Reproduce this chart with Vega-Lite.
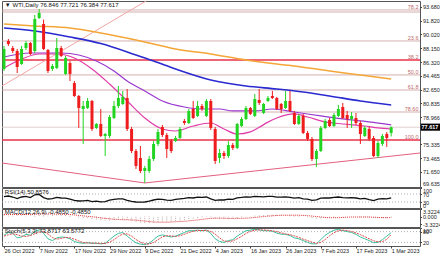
{
"$schema":"https://vega.github.io/schema/vega-lite/v6.json",
"padding":0,
"background":"white",
"spacing":1,
"bounds":"flush",
"config":{"view":{"stroke":"#555555","strokeWidth":1},"font":"Liberation Sans","axis":{"labelFontSize":5.5,"labelFont":"Liberation Sans","labelColor":"#222222","tickColor":"#444444","tickSize":1.5,"labelPadding":1,"domain":false,"grid":false,"labelOverlap":false}},
"datasets":{
"bars":[
{"i":0,"o":85.40,"h":88.47,"l":85.13,"c":88.07},{"i":1,"o":89.14,"h":89.40,"l":88.47,"c":88.74},{"i":2,"o":88.20,"h":88.47,"l":87.53,"c":87.80},{"i":3,"o":87.80,"h":88.07,"l":84.86,"c":85.66},{"i":4,"o":86.06,"h":88.47,"l":85.93,"c":88.07},{"i":5,"o":88.20,"h":89.14,"l":87.93,"c":88.87},{"i":6,"o":88.87,"h":89.00,"l":87.27,"c":87.40},{"i":7,"o":87.80,"h":92.61,"l":87.53,"c":92.08},{"i":8,"o":92.21,"h":93.41,"l":92.08,"c":92.88},{"i":9,"o":91.41,"h":92.00,"l":87.93,"c":88.07},
{"i":10,"o":87.93,"h":88.07,"l":84.86,"c":85.13},{"i":11,"o":85.40,"h":86.06,"l":85.13,"c":85.80},{"i":12,"o":85.53,"h":89.54,"l":85.40,"c":88.20},{"i":13,"o":88.20,"h":88.47,"l":87.00,"c":87.13},{"i":14,"o":84.73,"h":87.13,"l":84.60,"c":86.87},{"i":15,"o":86.20,"h":86.47,"l":83.79,"c":84.73},{"i":16,"o":83.52,"h":83.79,"l":81.66,"c":81.79},{"i":17,"o":81.79,"h":81.92,"l":77.52,"c":80.19},{"i":18,"o":80.05,"h":81.12,"l":75.38,"c":80.45},{"i":19,"o":80.19,"h":81.52,"l":80.05,"c":81.12},
{"i":20,"o":81.12,"h":81.26,"l":77.11,"c":77.38},{"i":21,"o":77.52,"h":78.18,"l":77.38,"c":78.05},{"i":22,"o":78.05,"h":80.05,"l":76.31,"c":76.45},{"i":23,"o":76.45,"h":76.85,"l":73.77,"c":76.71},{"i":24,"o":76.45,"h":79.25,"l":76.18,"c":78.98},{"i":25,"o":78.85,"h":81.12,"l":78.72,"c":80.45},{"i":26,"o":80.45,"h":83.12,"l":80.19,"c":81.52},{"i":27,"o":80.72,"h":82.46,"l":80.59,"c":81.66},{"i":28,"o":81.52,"h":82.72,"l":77.11,"c":77.38},{"i":29,"o":77.38,"h":77.65,"l":74.17,"c":74.44},
{"i":30,"o":74.44,"h":74.71,"l":72.04,"c":72.44},{"i":31,"o":73.51,"h":75.11,"l":71.50,"c":71.77},{"i":32,"o":71.77,"h":72.44,"l":70.17,"c":72.17},{"i":33,"o":71.77,"h":73.77,"l":71.50,"c":73.37},{"i":34,"o":73.37,"h":75.78,"l":73.10,"c":75.38},{"i":35,"o":75.38,"h":77.38,"l":75.11,"c":76.98},{"i":36,"o":77.65,"h":77.92,"l":76.31,"c":76.58},{"i":37,"o":76.58,"h":76.85,"l":73.51,"c":74.71},{"i":38,"o":75.78,"h":76.05,"l":74.17,"c":74.44},{"i":39,"o":75.78,"h":76.45,"l":75.64,"c":76.18},
{"i":40,"o":76.18,"h":77.65,"l":76.05,"c":77.38},{"i":41,"o":78.45,"h":78.72,"l":77.92,"c":78.18},{"i":42,"o":78.18,"h":80.05,"l":78.05,"c":79.79},{"i":43,"o":80.05,"h":81.12,"l":78.72,"c":78.85},{"i":44,"o":79.12,"h":81.12,"l":78.98,"c":80.45},{"i":45,"o":80.45,"h":80.72,"l":79.79,"c":80.05},{"i":46,"o":79.12,"h":81.39,"l":78.98,"c":81.12},{"i":47,"o":81.12,"h":81.39,"l":77.25,"c":77.52},{"i":48,"o":77.38,"h":77.65,"l":72.70,"c":73.10},{"i":49,"o":73.51,"h":74.71,"l":72.84,"c":74.17},
{"i":50,"o":74.17,"h":74.44,"l":73.37,"c":73.77},{"i":51,"o":73.77,"h":75.78,"l":73.51,"c":75.24},{"i":52,"o":75.24,"h":75.51,"l":74.57,"c":74.84},{"i":53,"o":74.84,"h":78.18,"l":74.71,"c":78.05},{"i":54,"o":77.78,"h":78.98,"l":77.65,"c":78.72},{"i":55,"o":78.72,"h":80.45,"l":78.58,"c":80.19},{"i":56,"o":80.19,"h":80.32,"l":79.25,"c":79.39},{"i":57,"o":79.12,"h":82.06,"l":78.98,"c":81.39},{"i":58,"o":81.26,"h":82.72,"l":80.59,"c":80.86},{"i":59,"o":79.52,"h":80.86,"l":79.39,"c":80.72},
{"i":60,"o":81.12,"h":81.79,"l":80.99,"c":81.52},{"i":61,"o":81.79,"h":82.46,"l":81.39,"c":81.52},{"i":62,"o":81.52,"h":81.66,"l":79.92,"c":80.05},{"i":63,"o":80.72,"h":80.86,"l":79.52,"c":80.05},{"i":64,"o":80.19,"h":82.46,"l":80.05,"c":81.12},{"i":65,"o":81.12,"h":82.46,"l":79.65,"c":79.79},{"i":66,"o":79.52,"h":79.79,"l":77.92,"c":78.05},{"i":67,"o":78.05,"h":79.39,"l":77.92,"c":79.12},{"i":68,"o":79.12,"h":79.39,"l":76.71,"c":76.85},{"i":69,"o":76.85,"h":77.11,"l":75.78,"c":76.05},
{"i":70,"o":76.05,"h":76.31,"l":73.10,"c":73.37},{"i":71,"o":73.37,"h":74.71,"l":72.30,"c":74.44},{"i":72,"o":74.44,"h":77.78,"l":74.31,"c":77.52},{"i":73,"o":77.52,"h":78.72,"l":77.38,"c":78.45},{"i":74,"o":78.58,"h":78.85,"l":77.65,"c":77.78},{"i":75,"o":77.78,"h":79.52,"l":77.65,"c":79.25},{"i":76,"o":79.12,"h":80.59,"l":78.98,"c":80.05},{"i":77,"o":80.32,"h":80.86,"l":78.72,"c":78.85},{"i":78,"o":79.25,"h":79.79,"l":77.52,"c":78.72},{"i":79,"o":78.72,"h":79.65,"l":77.52,"c":79.12},
{"i":80,"o":78.85,"h":79.52,"l":77.92,"c":78.18},{"i":81,"o":78.18,"h":78.45,"l":75.38,"c":76.71},{"i":82,"o":76.45,"h":77.78,"l":76.31,"c":77.52},{"i":83,"o":77.38,"h":77.65,"l":75.78,"c":76.05},{"i":84,"o":76.18,"h":76.45,"l":73.64,"c":73.77},{"i":85,"o":73.77,"h":75.78,"l":73.51,"c":75.51},{"i":86,"o":75.38,"h":76.71,"l":75.11,"c":76.45},{"i":87,"o":76.71,"h":76.98,"l":74.98,"c":76.18},{"i":88,"o":76.846,"h":77.721,"l":76.384,"c":77.617}
],
"ind":[
{"i":0,"r":57,"m":0.9,"s":0.9,"k":60,"d":55},{"i":1,"r":60,"m":1.0,"s":0.9,"k":75,"d":62},{"i":2,"r":55,"m":1.0,"s":0.9,"k":70,"d":68},{"i":3,"r":47,"m":0.8,"s":0.9,"k":45,"d":63},{"i":4,"r":55,"m":0.9,"s":0.9,"k":50,"d":55},{"i":5,"r":58,"m":1.0,"s":0.9,"k":65,"d":53},{"i":6,"r":52,"m":0.9,"s":0.9,"k":60,"d":58},{"i":7,"r":66,"m":1.3,"s":1.0,"k":80,"d":68},{"i":8,"r":68,"m":1.6,"s":1.1,"k":90,"d":77},{"i":9,"r":52,"m":1.4,"s":1.2,"k":70,"d":80},
{"i":10,"r":45,"m":1.0,"s":1.2,"k":40,"d":67},{"i":11,"r":47,"m":0.8,"s":1.1,"k":30,"d":47},{"i":12,"r":53,"m":0.9,"s":1.1,"k":45,"d":38},{"i":13,"r":50,"m":0.8,"s":1.0,"k":50,"d":42},{"i":14,"r":49,"m":0.7,"s":1.0,"k":48,"d":48},{"i":15,"r":44,"m":0.4,"s":0.9,"k":40,"d":46},{"i":16,"r":38,"m":0.0,"s":0.7,"k":25,"d":38},{"i":17,"r":35,"m":-0.4,"s":0.5,"k":18,"d":28},{"i":18,"r":36,"m":-0.6,"s":0.3,"k":15,"d":19},{"i":19,"r":38,"m":-0.7,"s":0.1,"k":18,"d":17},
{"i":20,"r":32,"m":-1.1,"s":-0.1,"k":15,"d":16},{"i":21,"r":34,"m":-1.3,"s":-0.3,"k":15,"d":16},{"i":22,"r":31,"m":-1.6,"s":-0.6,"k":12,"d":14},{"i":23,"r":32,"m":-1.8,"s":-0.8,"k":15,"d":14},{"i":24,"r":39,"m":-1.8,"s":-1.0,"k":35,"d":21},{"i":25,"r":43,"m":-1.6,"s":-1.2,"k":55,"d":35},{"i":26,"r":46,"m":-1.4,"s":-1.3,"k":70,"d":53},{"i":27,"r":46,"m":-1.2,"s":-1.4,"k":75,"d":67},{"i":28,"r":38,"m":-1.4,"s":-1.4,"k":55,"d":67},{"i":29,"r":33,"m":-1.8,"s":-1.5,"k":35,"d":55},
{"i":30,"r":30,"m":-2.3,"s":-1.6,"k":18,"d":36},{"i":31,"r":29,"m":-2.7,"s":-1.8,"k":10,"d":21},{"i":32,"r":30,"m":-2.9,"s":-2.0,"k":8,"d":12},{"i":33,"r":34,"m":-2.9,"s":-2.2,"k":15,"d":11},{"i":34,"r":40,"m":-2.7,"s":-2.4,"k":35,"d":19},{"i":35,"r":44,"m":-2.4,"s":-2.5,"k":55,"d":35},{"i":36,"r":43,"m":-2.2,"s":-2.5,"k":62,"d":51},{"i":37,"r":39,"m":-2.2,"s":-2.5,"k":55,"d":57},{"i":38,"r":38,"m":-2.2,"s":-2.4,"k":50,"d":56},{"i":39,"r":43,"m":-2.0,"s":-2.3,"k":55,"d":53},
{"i":40,"r":46,"m":-1.8,"s":-2.2,"k":65,"d":57},{"i":41,"r":48,"m":-1.5,"s":-2.1,"k":75,"d":65},{"i":42,"r":52,"m":-1.1,"s":-1.9,"k":85,"d":75},{"i":43,"r":50,"m":-0.9,"s":-1.7,"k":85,"d":82},{"i":44,"r":54,"m":-0.6,"s":-1.5,"k":88,"d":86},{"i":45,"r":53,"m":-0.4,"s":-1.3,"k":85,"d":86},{"i":46,"r":55,"m":-0.2,"s":-1.0,"k":88,"d":87},{"i":47,"r":46,"m":-0.3,"s":-0.8,"k":70,"d":81},{"i":48,"r":38,"m":-0.8,"s":-0.7,"k":40,"d":66},{"i":49,"r":41,"m":-1.0,"s":-0.7,"k":25,"d":45},
{"i":50,"r":40,"m":-1.1,"s":-0.7,"k":20,"d":28},{"i":51,"r":44,"m":-1.0,"s":-0.8,"k":30,"d":25},{"i":52,"r":43,"m":-1.0,"s":-0.8,"k":35,"d":28},{"i":53,"r":51,"m":-0.7,"s":-0.8,"k":55,"d":40},{"i":54,"r":53,"m":-0.4,"s":-0.8,"k":70,"d":53},{"i":55,"r":56,"m":-0.1,"s":-0.7,"k":85,"d":70},{"i":56,"r":54,"m":0.1,"s":-0.6,"k":88,"d":81},{"i":57,"r":58,"m":0.4,"s":-0.4,"k":92,"d":88},{"i":58,"r":57,"m":0.5,"s":-0.2,"k":90,"d":90},{"i":59,"r":56,"m":0.6,"s":0.0,"k":85,"d":89},
{"i":60,"r":58,"m":0.7,"s":0.2,"k":85,"d":87},{"i":61,"r":58,"m":0.8,"s":0.3,"k":82,"d":84},{"i":62,"r":54,"m":0.7,"s":0.5,"k":72,"d":80},{"i":63,"r":54,"m":0.7,"s":0.6,"k":65,"d":73},{"i":64,"r":56,"m":0.7,"s":0.6,"k":65,"d":67},{"i":65,"r":53,"m":0.6,"s":0.6,"k":58,"d":63},{"i":66,"r":49,"m":0.4,"s":0.6,"k":45,"d":56},{"i":67,"r":52,"m":0.3,"s":0.6,"k":40,"d":48},{"i":68,"r":46,"m":0.0,"s":0.5,"k":30,"d":38},{"i":69,"r":44,"m":-0.3,"s":0.4,"k":20,"d":30},
{"i":70,"r":38,"m":-0.7,"s":0.2,"k":12,"d":21},{"i":71,"r":41,"m":-0.9,"s":0.0,"k":12,"d":15},{"i":72,"r":49,"m":-0.8,"s":-0.2,"k":35,"d":20},{"i":73,"r":51,"m":-0.6,"s":-0.4,"k":60,"d":36},{"i":74,"r":50,"m":-0.5,"s":-0.5,"k":75,"d":57},{"i":75,"r":53,"m":-0.3,"s":-0.5,"k":88,"d":74},{"i":76,"r":55,"m":-0.1,"s":-0.5,"k":92,"d":85},{"i":77,"r":52,"m":-0.1,"s":-0.4,"k":85,"d":88},{"i":78,"r":51,"m":-0.1,"s":-0.3,"k":80,"d":86},{"i":79,"r":52,"m":-0.1,"s":-0.2,"k":75,"d":80},
{"i":80,"r":50,"m":-0.1,"s":-0.2,"k":65,"d":73},{"i":81,"r":46,"m":-0.3,"s":-0.2,"k":50,"d":63},{"i":82,"r":48,"m":-0.3,"s":-0.2,"k":40,"d":52},{"i":83,"r":42,"m":-0.4,"s":-0.2,"k":30,"d":40},{"i":84,"r":37,"m":-0.7,"s":-0.3,"k":18,"d":29},{"i":85,"r":44,"m":-0.7,"s":-0.4,"k":20,"d":23},{"i":86,"r":47,"m":-0.6,"s":-0.5,"k":35,"d":24},{"i":87,"r":46,"m":-0.6,"s":-0.5,"k":55,"d":37},{"i":88,"r":50.86,"m":-0.485,"s":-0.485,"k":73.87,"d":63.58}
],
"ma":[
{"i":0,"s":"orange","v":91.41},{"i":7,"s":"orange","v":91.14},{"i":15,"s":"orange","v":90.87},{"i":22,"s":"orange","v":90.21},{"i":30,"s":"orange","v":89.27},{"i":34,"s":"orange","v":88.74},{"i":39,"s":"orange","v":88.07},{"i":47,"s":"orange","v":87.40},{"i":55,"s":"orange","v":86.60},{"i":62,"s":"orange","v":86.06},{"i":66,"s":"orange","v":85.80},{"i":74,"s":"orange","v":85.13},{"i":81,"s":"orange","v":84.60},{"i":88,"s":"orange","v":84.06},
{"i":0,"s":"blue","v":90.87},{"i":7,"s":"blue","v":90.47},{"i":15,"s":"blue","v":89.67},{"i":22,"s":"blue","v":88.80},{"i":30,"s":"blue","v":87.27},{"i":34,"s":"blue","v":86.47},{"i":39,"s":"blue","v":85.40},{"i":47,"s":"blue","v":83.93},{"i":55,"s":"blue","v":83.12},{"i":62,"s":"blue","v":82.72},{"i":68,"s":"blue","v":82.32},{"i":74,"s":"blue","v":81.79},{"i":81,"s":"blue","v":81.12},{"i":88,"s":"blue","v":80.59},
{"i":0,"s":"purple","v":87.0},{"i":6,"s":"purple","v":87.53},{"i":13,"s":"purple","v":87.53},{"i":17,"s":"purple","v":87.27},{"i":21,"s":"purple","v":86.47},{"i":25,"s":"purple","v":85.13},{"i":28,"s":"purple","v":83.79},{"i":32,"s":"purple","v":82.46},{"i":36,"s":"purple","v":81.12},{"i":41,"s":"purple","v":80.32},{"i":45,"s":"purple","v":80.05},{"i":49,"s":"purple","v":80.05},{"i":52,"s":"purple","v":79.79},{"i":57,"s":"purple","v":79.79},{"i":61,"s":"purple","v":80.05},{"i":66,"s":"purple","v":79.65},{"i":72,"s":"purple","v":79.12},{"i":77,"s":"purple","v":78.72},{"i":83,"s":"purple","v":78.32},{"i":88,"s":"purple","v":77.92},
{"i":0,"s":"magenta","v":85.53},{"i":4,"s":"magenta","v":86.73},{"i":8,"s":"magenta","v":87.40},{"i":12,"s":"magenta","v":87.40},{"i":16,"s":"magenta","v":86.87},{"i":20,"s":"magenta","v":85.40},{"i":24,"s":"magenta","v":83.39},{"i":28,"s":"magenta","v":81.12},{"i":32,"s":"magenta","v":78.85},{"i":36,"s":"magenta","v":77.38},{"i":39,"s":"magenta","v":77.11},{"i":43,"s":"magenta","v":77.78},{"i":47,"s":"magenta","v":78.18},{"i":50,"s":"magenta","v":77.38},{"i":53,"s":"magenta","v":76.71},{"i":56,"s":"magenta","v":77.0},{"i":58,"s":"magenta","v":77.6},{"i":60,"s":"magenta","v":78.3},{"i":62,"s":"magenta","v":78.85},{"i":66,"s":"magenta","v":79.39},{"i":69,"s":"magenta","v":78.98},{"i":73,"s":"magenta","v":78.32},{"i":77,"s":"magenta","v":78.05},{"i":82,"s":"magenta","v":77.78},{"i":85,"s":"magenta","v":77.52},{"i":88,"s":"magenta","v":77.38}
],
"fib":[
{"p":93.28,"t":"78.2","k":"a"},{"p":93.01,"t":"","k":"a"},{"p":89.14,"t":"23.6","k":"a"},{"p":86.60,"t":"38.2","k":"b"},{"p":84.60,"t":"50.0","k":"a"},{"p":82.59,"t":"61.8","k":"a"},{"p":79.65,"t":"78.60","k":"a"},{"p":77.617,"t":"","k":"c"},{"p":75.91,"t":"100.0","k":"b"}
],
"segs":[
{"x1":-0.45,"y1":83.12,"x2":32.3,"y2":94.48,"k":"u"},{"x1":-0.45,"y1":72.84,"x2":32.0,"y2":70.17,"k":"l"},{"x1":32.0,"y1":70.17,"x2":94.55,"y2":74.17,"k":"l"}
]
},
"vconcat":[
{
"width":418,"height":186,
"layer":[
{"data":{"name":"fib"},"transform":[{"filter":"datum.k == 'a'"}],"mark":{"type":"rule","color":"#c99a9a","strokeWidth":0.8},
 "encoding":{"y":{"field":"p","type":"quantitative","scale":{"domain":[69.63,94.48],"nice":false,"zero":false},"axis":{"orient":"right","title":null,"values":[93.68,91.82,90.02,88.15,86.32,84.465,82.65,80.835,78.966,75.335,73.465,71.65,69.635],"format":".3f","labelFlush":true}}}},
{"data":{"name":"fib"},"transform":[{"filter":"datum.k == 'b'"}],"mark":{"type":"rule","color":"#e8324a","strokeWidth":1.4},
 "encoding":{"y":{"field":"p","type":"quantitative","scale":{"domain":[69.63,94.48],"nice":false,"zero":false},"axis":{"orient":"right","title":null,"values":[93.68,91.82,90.02,88.15,86.32,84.465,82.65,80.835,78.966,75.335,73.465,71.65,69.635],"format":".3f","labelFlush":true}}}},
{"data":{"name":"fib"},"transform":[{"filter":"datum.k == 'c'"}],"mark":{"type":"rule","color":"#d9c4c4","strokeWidth":0.8},
 "encoding":{"y":{"field":"p","type":"quantitative","scale":{"domain":[69.63,94.48],"nice":false,"zero":false},"axis":{"orient":"right","title":null,"values":[93.68,91.82,90.02,88.15,86.32,84.465,82.65,80.835,78.966,75.335,73.465,71.65,69.635],"format":".3f","labelFlush":true}}}},
{"data":{"name":"segs"},"transform":[{"filter":"datum.k == 'u'"}],"mark":{"type":"rule","strokeWidth":1,"clip":true,"color":"#f2a4a4"},
 "encoding":{"x":{"field":"x1","type":"quantitative","scale":{"domain":[-0.45,94.55],"nice":false,"zero":false},"axis":null},"x2":{"field":"x2"},
 "y":{"field":"y1","type":"quantitative","scale":{"domain":[69.63,94.48],"nice":false,"zero":false},"axis":{"orient":"right","title":null,"values":[93.68,91.82,90.02,88.15,86.32,84.465,82.65,80.835,78.966,75.335,73.465,71.65,69.635],"format":".3f","labelFlush":true}},"y2":{"field":"y2"}}},
{"data":{"name":"segs"},"transform":[{"filter":"datum.k == 'l'"}],"mark":{"type":"rule","strokeWidth":1,"clip":true,"color":"#e2607e"},
 "encoding":{"x":{"field":"x1","type":"quantitative","scale":{"domain":[-0.45,94.55],"nice":false,"zero":false},"axis":null},"x2":{"field":"x2"},
 "y":{"field":"y1","type":"quantitative","scale":{"domain":[69.63,94.48],"nice":false,"zero":false},"axis":{"orient":"right","title":null,"values":[93.68,91.82,90.02,88.15,86.32,84.465,82.65,80.835,78.966,75.335,73.465,71.65,69.635],"format":".3f","labelFlush":true}},"y2":{"field":"y2"}}},
{"data":{"name":"ma"},"transform":[{"filter":"datum.s == 'orange'"}],"mark":{"type":"line","interpolate":"monotone","color":"#f4a638","strokeWidth":1.5},
 "encoding":{"x":{"field":"i","type":"quantitative","scale":{"domain":[-0.45,94.55],"nice":false,"zero":false},"axis":null},
 "y":{"field":"v","type":"quantitative","scale":{"domain":[69.63,94.48],"nice":false,"zero":false},"axis":{"orient":"right","title":null,"values":[93.68,91.82,90.02,88.15,86.32,84.465,82.65,80.835,78.966,75.335,73.465,71.65,69.635],"format":".3f","labelFlush":true}}}},
{"data":{"name":"ma"},"transform":[{"filter":"datum.s == 'blue'"}],"mark":{"type":"line","interpolate":"monotone","color":"#2a2ad0","strokeWidth":1.6},
 "encoding":{"x":{"field":"i","type":"quantitative","scale":{"domain":[-0.45,94.55],"nice":false,"zero":false},"axis":null},
 "y":{"field":"v","type":"quantitative","scale":{"domain":[69.63,94.48],"nice":false,"zero":false},"axis":{"orient":"right","title":null,"values":[93.68,91.82,90.02,88.15,86.32,84.465,82.65,80.835,78.966,75.335,73.465,71.65,69.635],"format":".3f","labelFlush":true}}}},
{"data":{"name":"ma"},"transform":[{"filter":"datum.s == 'purple'"}],"mark":{"type":"line","interpolate":"monotone","color":"#9a38d0","strokeWidth":1.2},
 "encoding":{"x":{"field":"i","type":"quantitative","scale":{"domain":[-0.45,94.55],"nice":false,"zero":false},"axis":null},
 "y":{"field":"v","type":"quantitative","scale":{"domain":[69.63,94.48],"nice":false,"zero":false},"axis":{"orient":"right","title":null,"values":[93.68,91.82,90.02,88.15,86.32,84.465,82.65,80.835,78.966,75.335,73.465,71.65,69.635],"format":".3f","labelFlush":true}}}},
{"data":{"name":"ma"},"transform":[{"filter":"datum.s == 'magenta'"}],"mark":{"type":"line","interpolate":"monotone","color":"#e03ca8","strokeWidth":1.2},
 "encoding":{"x":{"field":"i","type":"quantitative","scale":{"domain":[-0.45,94.55],"nice":false,"zero":false},"axis":null},
 "y":{"field":"v","type":"quantitative","scale":{"domain":[69.63,94.48],"nice":false,"zero":false},"axis":{"orient":"right","title":null,"values":[93.68,91.82,90.02,88.15,86.32,84.465,82.65,80.835,78.966,75.335,73.465,71.65,69.635],"format":".3f","labelFlush":true}}}},
{"data":{"name":"bars"},"mark":{"type":"rule","strokeWidth":1},
 "encoding":{"x":{"field":"i","type":"quantitative","scale":{"domain":[-0.45,94.55],"nice":false,"zero":false},"axis":null},
 "y":{"field":"l","type":"quantitative","scale":{"domain":[69.63,94.48],"nice":false,"zero":false},"axis":{"orient":"right","title":null,"values":[93.68,91.82,90.02,88.15,86.32,84.465,82.65,80.835,78.966,75.335,73.465,71.65,69.635],"format":".3f","labelFlush":true}},"y2":{"field":"h"},
 "color":{"condition":{"test":"datum.c >= datum.o","value":"#22d422"},"value":"#ee1c1c"}}},
{"data":{"name":"bars"},"mark":{"type":"rule","strokeWidth":3,"strokeCap":"butt"},
 "encoding":{"x":{"field":"i","type":"quantitative","scale":{"domain":[-0.45,94.55],"nice":false,"zero":false},"axis":null},
 "y":{"field":"o","type":"quantitative","scale":{"domain":[69.63,94.48],"nice":false,"zero":false},"axis":{"orient":"right","title":null,"values":[93.68,91.82,90.02,88.15,86.32,84.465,82.65,80.835,78.966,75.335,73.465,71.65,69.635],"format":".3f","labelFlush":true}},"y2":{"field":"c"},
 "color":{"condition":{"test":"datum.c >= datum.o","value":"#22d422"},"value":"#ee1c1c"}}},
{"data":{"name":"fib"},"transform":[{"filter":"datum.t != ''"}],"mark":{"type":"text","align":"right","baseline":"bottom","fontSize":5.5,"font":"Liberation Sans","color":"#c06a6a"},
 "encoding":{"x":{"datum":94.2,"type":"quantitative","scale":{"domain":[-0.45,94.55],"nice":false,"zero":false},"axis":null},
 "y":{"field":"p","type":"quantitative","scale":{"domain":[69.63,94.48],"nice":false,"zero":false},"axis":{"orient":"right","title":null,"values":[93.68,91.82,90.02,88.15,86.32,84.465,82.65,80.835,78.966,75.335,73.465,71.65,69.635],"format":".3f","labelFlush":true}},
 "text":{"field":"t"}}},
{"data":{"values":[{"t":"▼ WTI,Daily  76.846 77.721 76.384 77.617"}]},"mark":{"type":"text","align":"left","baseline":"middle","fontSize":6,"font":"Liberation Sans","color":"#111111"},
 "encoding":{"x":{"datum":0.2,"type":"quantitative","scale":{"domain":[-0.45,94.55],"nice":false,"zero":false},"axis":null},
 "y":{"datum":93.95,"type":"quantitative","scale":{"domain":[69.63,94.48],"nice":false,"zero":false},"axis":{"orient":"right","title":null,"values":[93.68,91.82,90.02,88.15,86.32,84.465,82.65,80.835,78.966,75.335,73.465,71.65,69.635],"format":".3f","labelFlush":true}},"text":{"field":"t"}}},
{"data":{"values":[{"t":"77.617"}]},"mark":{"type":"rect","color":"#000000"},
 "encoding":{"x":{"datum":94.7,"type":"quantitative","scale":{"domain":[-0.45,94.55],"nice":false,"zero":false},"axis":null},"x2":{"datum":99.6},
 "y":{"datum":78.1,"type":"quantitative","scale":{"domain":[69.63,94.48],"nice":false,"zero":false},"axis":{"orient":"right","title":null,"values":[93.68,91.82,90.02,88.15,86.32,84.465,82.65,80.835,78.966,75.335,73.465,71.65,69.635],"format":".3f","labelFlush":true}},"y2":{"datum":77.15}}},
{"data":{"values":[{"t":"77.617"}]},"mark":{"type":"text","align":"left","baseline":"middle","fontSize":5.5,"fontWeight":"bold","font":"Liberation Sans","color":"#ffffff"},
 "encoding":{"x":{"datum":94.9,"type":"quantitative","scale":{"domain":[-0.45,94.55],"nice":false,"zero":false},"axis":null},
 "y":{"datum":77.617,"type":"quantitative","scale":{"domain":[69.63,94.48],"nice":false,"zero":false},"axis":{"orient":"right","title":null,"values":[93.68,91.82,90.02,88.15,86.32,84.465,82.65,80.835,78.966,75.335,73.465,71.65,69.635],"format":".3f","labelFlush":true}},"text":{"field":"t"}}}
]
},
{
"width":418,"height":20,
"layer":[
{"data":{"values":[{"v":30},{"v":70}]},"mark":{"type":"rule","strokeDash":[1,2],"color":"#999999","strokeWidth":0.8},
 "encoding":{"y":{"field":"v","type":"quantitative","scale":{"domain":[0,100],"nice":false},"axis":{"orient":"right","title":null,"values":[100,70,30,0],"labelFlush":true}}}},
{"data":{"name":"ind"},"mark":{"type":"line","color":"#111111","strokeWidth":1.3},
 "encoding":{"x":{"field":"i","type":"quantitative","scale":{"domain":[-0.45,94.55],"nice":false,"zero":false},"axis":null},
 "y":{"field":"r","type":"quantitative","scale":{"domain":[0,100],"nice":false},"axis":{"orient":"right","title":null,"values":[100,70,30,0],"labelFlush":true}}}},
{"data":{"values":[{"t":"RSI(14) 50.8576"}]},"mark":{"type":"text","align":"left","baseline":"middle","fontSize":6,"font":"Liberation Sans","color":"#111111"},
 "encoding":{"x":{"datum":0.2,"type":"quantitative","scale":{"domain":[-0.45,94.55],"nice":false,"zero":false},"axis":null},
 "y":{"datum":80,"type":"quantitative","scale":{"domain":[0,100],"nice":false},"axis":{"orient":"right","title":null,"values":[100,70,30,0],"labelFlush":true}},"text":{"field":"t"}}}
]
},
{
"width":418,"height":18,
"layer":[
{"data":{"name":"ind"},"mark":{"type":"rule","strokeWidth":1,"strokeDash":[1,1],"color":"#c0a8a8"},
 "encoding":{"x":{"field":"i","type":"quantitative","scale":{"domain":[-0.45,94.55],"nice":false,"zero":false},"axis":null},
 "y":{"field":"m","type":"quantitative","scale":{"domain":[-4.6,3.3224],"nice":false,"zero":false},"axis":{"orient":"right","title":null,"values":[3.3224,0,-3.3224],"labelFlush":true,"labelExpr":"datum.value == 0 ? '0.000' : (datum.value < 0 ? '-' : '') + format(abs(datum.value), '.4f')"}},"y2":{"datum":0}}},
{"data":{"name":"ind"},"mark":{"type":"line","strokeWidth":1,"strokeDash":[1,1],"color":"#e03030"},
 "encoding":{"x":{"field":"i","type":"quantitative","scale":{"domain":[-0.45,94.55],"nice":false,"zero":false},"axis":null},
 "y":{"field":"s","type":"quantitative","scale":{"domain":[-4.6,3.3224],"nice":false,"zero":false},"axis":{"orient":"right","title":null,"values":[3.3224,0,-3.3224],"labelFlush":true,"labelExpr":"datum.value == 0 ? '0.000' : (datum.value < 0 ? '-' : '') + format(abs(datum.value), '.4f')"}}}},
{"data":{"values":[{"t":"MACD(12,26,9) -0.4850 -0.4850"}]},"mark":{"type":"text","align":"left","baseline":"middle","fontSize":6,"font":"Liberation Sans","color":"#111111"},
 "encoding":{"x":{"datum":0.2,"type":"quantitative","scale":{"domain":[-0.45,94.55],"nice":false,"zero":false},"axis":null},
 "y":{"datum":2.0,"type":"quantitative","scale":{"domain":[-4.6,3.3224],"nice":false,"zero":false},"axis":{"orient":"right","title":null,"values":[3.3224,0,-3.3224],"labelFlush":true,"labelExpr":"datum.value == 0 ? '0.000' : (datum.value < 0 ? '-' : '') + format(abs(datum.value), '.4f')"}},"text":{"field":"t"}}}
]
},
{
"width":418,"height":18,
"layer":[
{"data":{"values":[{"v":20},{"v":80}]},"mark":{"type":"rule","strokeDash":[1,2],"color":"#999999","strokeWidth":0.8},
 "encoding":{"y":{"field":"v","type":"quantitative","scale":{"domain":[0,100],"nice":false},"axis":{"orient":"right","title":null,"values":[100,80,20],"labelFlush":true}}}},
{"data":{"name":"ind"},"mark":{"type":"line","color":"#3cc0a0","strokeWidth":1},
 "encoding":{"x":{"field":"i","type":"quantitative","scale":{"domain":[-0.45,94.55],"nice":false,"zero":false},
   "axis":{"orient":"bottom","title":null,"values":[0,8,16,24,32,40,48,56,64,72,80,88],"labelExpr":"['26 Oct 2022','7 Nov 2022','17 Nov 2022','29 Nov 2022','9 Dec 2022','21 Dec 2022','4 Jan 2023','16 Jan 2023','26 Jan 2023','7 Feb 2023','17 Feb 2023','1 Mar 2023'][round(datum.value/8)]","labelAlign":"left","labelFlush":false,"labelBound":false,"tickSize":2,"labelPadding":0}},
 "y":{"field":"k","type":"quantitative","scale":{"domain":[0,100],"nice":false},"axis":{"orient":"right","title":null,"values":[100,80,20],"labelFlush":true}}}},
{"data":{"name":"ind"},"mark":{"type":"line","color":"#e04848","strokeWidth":1,"strokeDash":[2,1]},
 "encoding":{"x":{"field":"i","type":"quantitative","scale":{"domain":[-0.45,94.55],"nice":false,"zero":false},
   "axis":{"orient":"bottom","title":null,"values":[0,8,16,24,32,40,48,56,64,72,80,88],"labelExpr":"['26 Oct 2022','7 Nov 2022','17 Nov 2022','29 Nov 2022','9 Dec 2022','21 Dec 2022','4 Jan 2023','16 Jan 2023','26 Jan 2023','7 Feb 2023','17 Feb 2023','1 Mar 2023'][round(datum.value/8)]","labelAlign":"left","labelFlush":false,"labelBound":false,"tickSize":2,"labelPadding":0}},
 "y":{"field":"d","type":"quantitative","scale":{"domain":[0,100],"nice":false},"axis":{"orient":"right","title":null,"values":[100,80,20],"labelFlush":true}}}},
{"data":{"values":[{"t":"Stoch(5,3,3) 73.8717 63.5772"}]},"mark":{"type":"text","align":"left","baseline":"middle","fontSize":6,"font":"Liberation Sans","color":"#111111"},
 "encoding":{"x":{"datum":0.2,"type":"quantitative","scale":{"domain":[-0.45,94.55],"nice":false,"zero":false},
   "axis":{"orient":"bottom","title":null,"values":[0,8,16,24,32,40,48,56,64,72,80,88],"labelExpr":"['26 Oct 2022','7 Nov 2022','17 Nov 2022','29 Nov 2022','9 Dec 2022','21 Dec 2022','4 Jan 2023','16 Jan 2023','26 Jan 2023','7 Feb 2023','17 Feb 2023','1 Mar 2023'][round(datum.value/8)]","labelAlign":"left","labelFlush":false,"labelBound":false,"tickSize":2,"labelPadding":0}},
 "y":{"datum":83,"type":"quantitative","scale":{"domain":[0,100],"nice":false},"axis":{"orient":"right","title":null,"values":[100,80,20],"labelFlush":true}},"text":{"field":"t"}}}
]
}
]
}
